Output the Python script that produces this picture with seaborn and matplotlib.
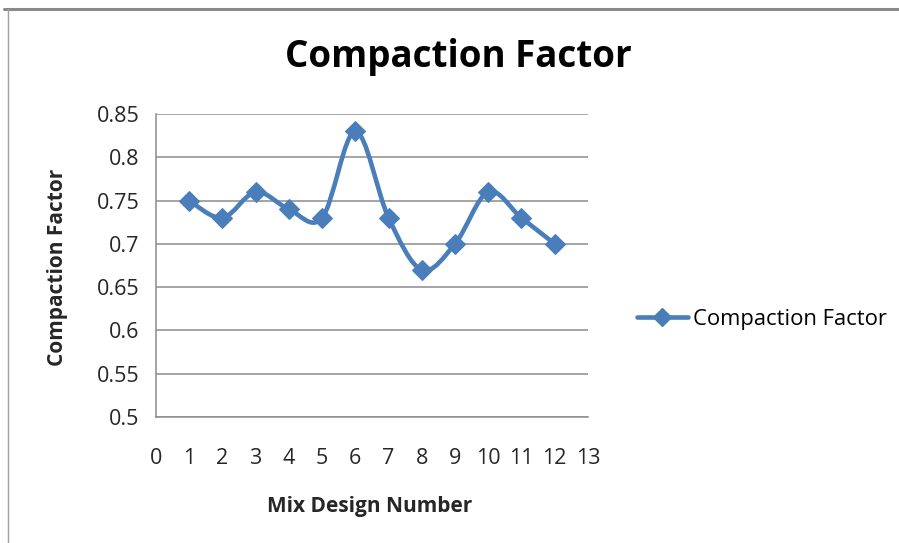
import matplotlib
matplotlib.use("Agg")
import matplotlib.pyplot as plt
from matplotlib.path import Path
from matplotlib.patches import PathPatch
from matplotlib.lines import Line2D
import seaborn as sns
import numpy as np
import pandas as pd

mix_numbers = [1, 2, 3, 4, 5, 6, 7, 8, 9, 10, 11, 12]
compaction = [0.75, 0.73, 0.76, 0.74, 0.73, 0.83, 0.73, 0.67, 0.70, 0.76, 0.73, 0.70]
x_ticks = list(range(0, 14))
y_ticks = [0.5, 0.55, 0.6, 0.65, 0.7, 0.75, 0.8, 0.85]
y_labels = ["0.5", "0.55", "0.6", "0.65", "0.7", "0.75", "0.8", "0.85"]

BLUE = "#4A7EBB"
GRID = "#8C8C8C"

sns.set_style("white")
plt.rcParams["font.family"] = ["Open Sans", "DejaVu Sans"]
plt.rcParams["text.color"] = "black"

data = pd.DataFrame({"Mix": mix_numbers, "CF": compaction})

fig = plt.figure(figsize=(8.99, 5.43), dpi=100)
ax = fig.add_axes([0.1735, 0.232, 0.654 - 0.1735, 0.790 - 0.232])

# smoothed line like Excel (bezier through the points)
pts = np.column_stack([data["Mix"], data["CF"]]).astype(float)
verts = [tuple(pts[0])]
codes = [Path.MOVETO]
n = len(pts)
for i in range(n - 1):
    p0 = pts[i - 1] if i > 0 else pts[i]
    p1, p2 = pts[i], pts[i + 1]
    p3 = pts[i + 2] if i + 2 < n else pts[i + 1]
    c1 = p1 + (p2 - p0) / 6
    c2 = p2 - (p3 - p1) / 6
    verts += [tuple(c1), tuple(c2), tuple(p2)]
    codes += [Path.CURVE4] * 3
ax.add_patch(PathPatch(Path(verts, codes), fill=False, edgecolor=BLUE, lw=3.3,
                       capstyle="round", joinstyle="round", zorder=3))

sns.lineplot(x="Mix", y="CF", data=data, ax=ax, linestyle="none", marker="D",
             markersize=10.5, color=BLUE, markeredgecolor=BLUE, zorder=4)

ax.set_xlim(0, 13)
ax.set_ylim(0.5, 0.85)
ax.set_xticks(x_ticks)
ax.set_xticklabels([str(t) for t in x_ticks])
ax.set_yticks(y_ticks)
ax.set_yticklabels(y_labels)
ax.grid(axis="y", color=GRID, lw=1.1)
ax.grid(axis="x", visible=False)
for s in ["top", "right"]:
    ax.spines[s].set_visible(False)
for s in ["left", "bottom"]:
    ax.spines[s].set_color(GRID)
    ax.spines[s].set_linewidth(1.1)
ax.tick_params(axis="both", colors=GRID, labelcolor="#262626", labelsize=15.5,
               direction="out", length=6, width=1.1)
ax.tick_params(axis="y", pad=6)
ax.tick_params(axis="x", pad=16)

ax.set_xlabel("Mix Design Number", fontsize=15, fontweight="bold", va="center")
ax.xaxis.set_label_coords(0.4955, -0.294)
ax.set_ylabel("Compaction Factor", fontsize=15, fontweight="bold", va="center")
ax.yaxis.set_label_coords(-0.227, 0.495)
fig.text(0.5095, 0.895, "Compaction Factor", fontsize=26.5, fontweight="bold",
         ha="center", va="center")

handle = Line2D([], [], color=BLUE, lw=3.3, marker="D", markersize=9)
fig.legend(handles=[handle], labels=["Compaction Factor"], loc="center left",
           bbox_to_anchor=(0.7086, 0.4125), frameon=False, fontsize=15.8,
           handlelength=2.3, handletextpad=0.23, borderpad=0, borderaxespad=0)

# outer frame of the embedded chart
fig.add_artist(Line2D([0.005, 1.0], [0.983, 0.983], transform=fig.transFigure,
                      color="#8A8A8A", lw=2.2))
fig.add_artist(Line2D([0.009, 0.009], [0.0, 0.983], transform=fig.transFigure,
                      color="#A0A0A0", lw=1.0))

fig.savefig("out.png", dpi=100)
